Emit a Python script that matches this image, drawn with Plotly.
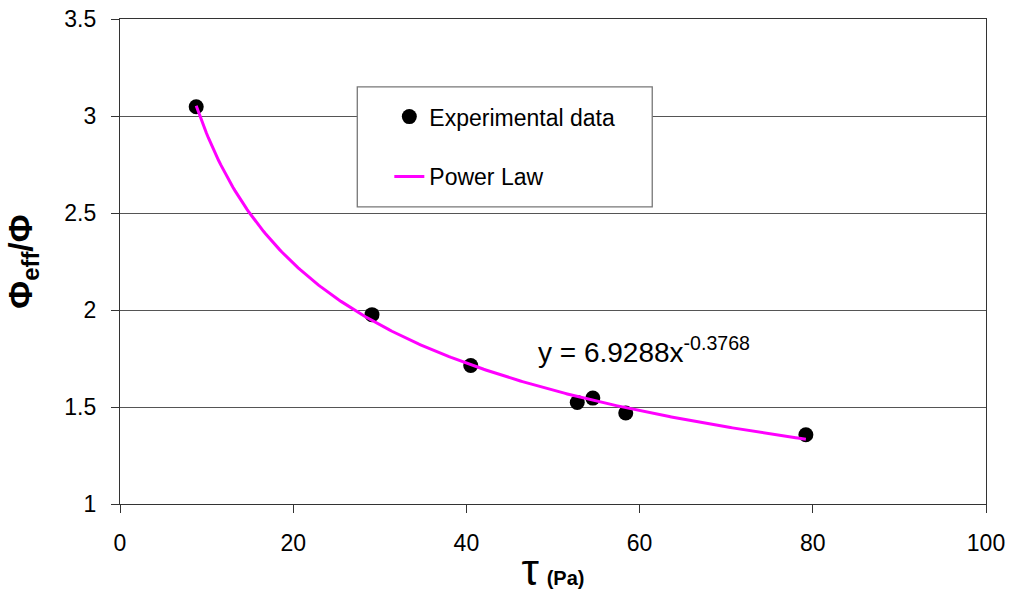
import numpy as np
import plotly.graph_objects as go

# Data
tau = [8.8, 29.1, 40.5, 52.8, 54.6, 58.4, 79.2]
phi_ratio = [3.048, 1.976, 1.714, 1.523, 1.546, 1.469, 1.357]

# Power-law trendline coefficients printed on the chart
fit_a = 6.9288
fit_b = -0.3768

x_ticks = [0, 20, 40, 60, 80, 100]
y_ticks = [1, 1.5, 2, 2.5, 3, 3.5]
y_tick_labels = ["1", "1.5", "2", "2.5", "3", "3.5"]

FONT = "Liberation Sans, Arial, sans-serif"

x_fit = np.linspace(min(tau), max(tau), 300)
y_fit = fit_a * x_fit ** fit_b

fig = go.Figure()
fig.add_trace(go.Scatter(
    x=tau, y=phi_ratio, mode="markers", name="Experimental data",
    marker=dict(color="black", size=15), legendgroup="a",
))
fig.add_trace(go.Scatter(
    x=x_fit, y=y_fit, mode="lines", name="Power Law",
    line=dict(color="#FF00FF", width=3), legendgroup="b",
))

fig.update_layout(
    width=1010, height=599,
    margin=dict(l=119.5, r=24, t=19, b=95, autoexpand=False),
    paper_bgcolor="white", plot_bgcolor="white",
    font=dict(family=FONT, color="black", size=23),
    showlegend=True,
    legend=dict(
        x=0.311, y=0.843, xanchor="left", yanchor="top",
        bgcolor="rgba(0,0,0,0)", borderwidth=0,
        font=dict(size=23, family=FONT),
        tracegroupgap=27,
    ),
    shapes=[dict(
        type="rect", xref="paper", yref="paper",
        x0=0.274, x1=0.6146, y0=0.6126, y1=0.86,
        fillcolor="white", line=dict(color="#777777", width=1.3),
        layer="above",
    )],
    annotations=[dict(
        x=48.0, y=1.69, xref="x", yref="y", xanchor="left", yanchor="bottom",
        text="y = 6.9288x<sup>-0.3768</sup>", showarrow=False,
        font=dict(size=28, family=FONT),
    )],
)

fig.update_xaxes(
    range=[0, 100], tickvals=x_ticks, showgrid=False, zeroline=False,
    automargin=False, ticklabeloverflow="allow",
    showline=True, linecolor="#333333", linewidth=1.2, mirror=True,
    ticks="outside", ticklen=8, tickcolor="#333333",
    ticklabelstandoff=10,
    tickfont=dict(size=23, family=FONT),
    title=dict(
        text="<span style='font-size:44px'>τ</span> <b><span style='font-size:20px'>(Pa)</span></b>",
        standoff=10,
    ),
)
fig.update_yaxes(
    range=[1, 3.5], tickvals=y_ticks, ticktext=y_tick_labels,
    automargin=False, ticklabeloverflow="allow",
    showgrid=True, gridcolor="#555555", gridwidth=1, zeroline=False,
    showline=True, linecolor="#333333", linewidth=1.2, mirror=True,
    ticks="outside", ticklen=8, tickcolor="#333333",
    ticklabelstandoff=10,
    tickfont=dict(size=23, family=FONT),
    title=dict(
        text="<b>Φ<sub>eff</sub>/Φ</b>",
        font=dict(size=34, family=FONT),
        standoff=21,
    ),
)

fig.write_html(
    "out.html",
    config={"displayModeBar": False},
    post_script="document.body.style.margin='0';document.body.style.padding='0';",
)
